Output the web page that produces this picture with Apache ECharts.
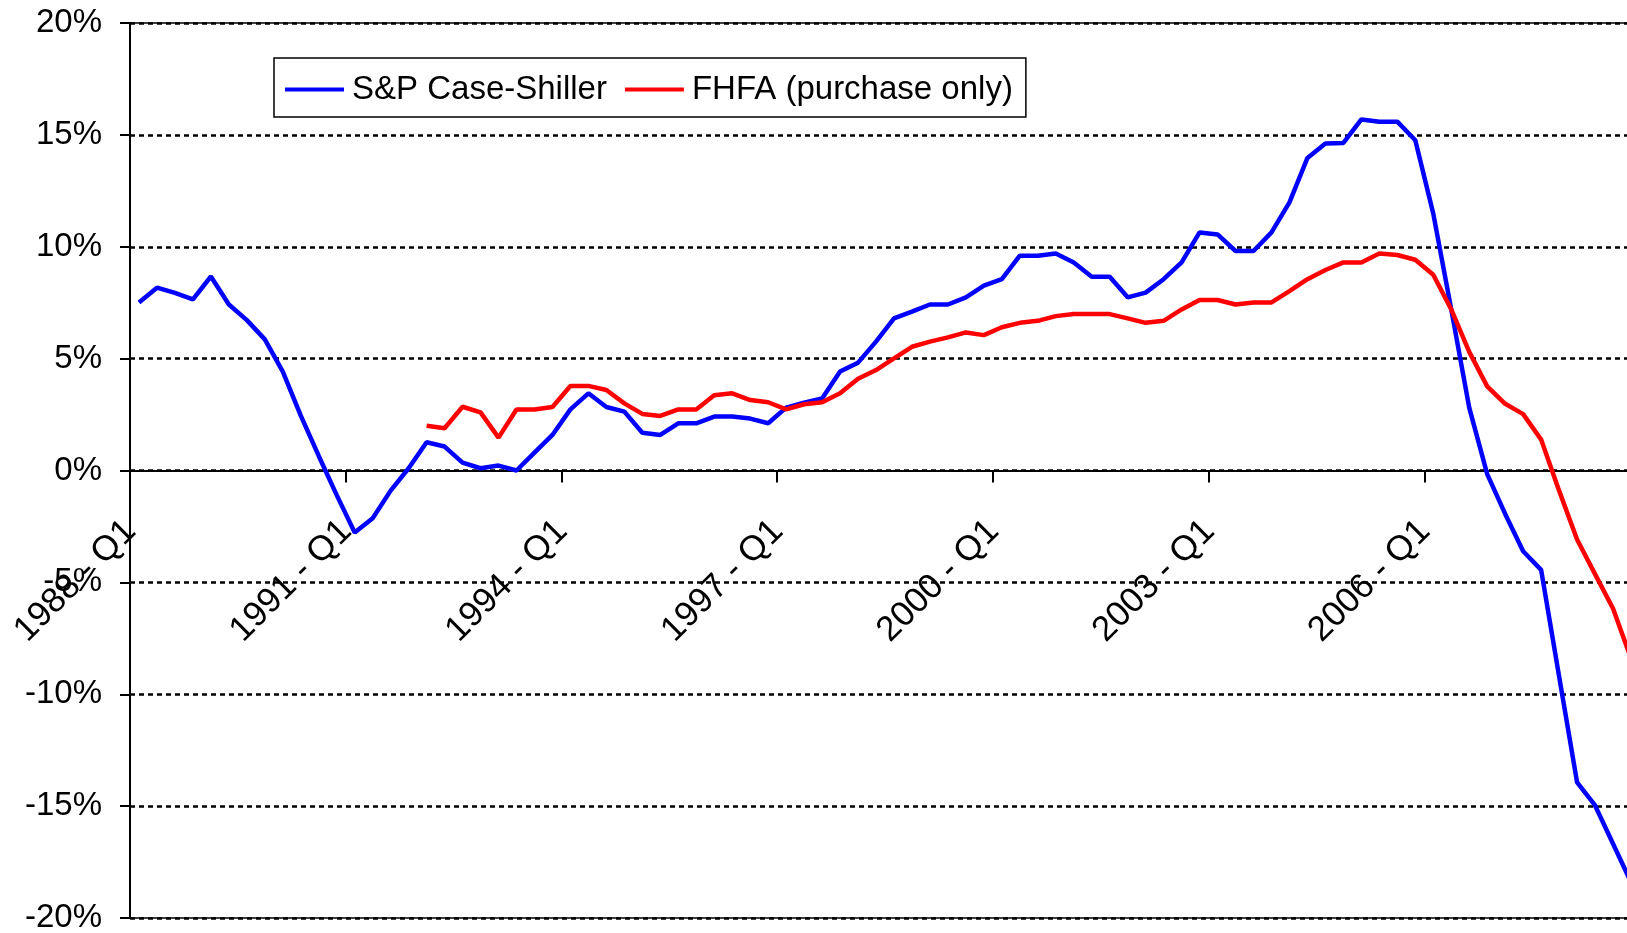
<!DOCTYPE html>
<html>
<head>
<meta charset="utf-8">
<script src="https://cdn.jsdelivr.net/npm/echarts@6/dist/echarts.min.js"></script>
<style>
    html, body {margin: 0; padding: 0; overflow: hidden; background: #fff;}
    #chart {width: 1660px; height: 933px;}
</style>
</head>
<body>
<div id="chart"></div>
<script>
// quarters 1988 Q1 .. 2008 Q4
const startYear = 1988;
const quarterCount = 84;
const categories = [];
for (let i = 0; i < quarterCount; i++) {
    categories.push((startYear + Math.floor(i / 4)) + ' - Q' + (i % 4 + 1));
}

// year-over-year change, %
const caseShiller = [
    7.51, 8.17, 7.94, 7.65, 8.67, 7.42, 6.72, 5.86,
    4.42, 2.45, 0.65, -1.1, -2.77, -2.13, -0.9, 0.1,
    1.26, 1.07, 0.35, 0.1, 0.22, 0.0, 0.8, 1.59,
    2.73, 3.45, 2.84, 2.63, 1.69, 1.59, 2.11, 2.11,
    2.41, 2.41, 2.32, 2.11, 2.81, 3.03, 3.22, 4.42,
    4.82, 5.76, 6.8, 7.1, 7.42, 7.42, 7.74, 8.26,
    8.55, 9.6, 9.6, 9.7, 9.3, 8.66, 8.66, 7.74,
    7.95, 8.55, 9.3, 10.64, 10.55, 9.81, 9.81, 10.64,
    11.98, 13.97, 14.62, 14.64, 15.69, 15.59, 15.59, 14.76,
    11.48, 7.2, 2.81, -0.16, -1.94, -3.61, -4.44, -9.2,
    -13.94, -14.97, -16.68, -18.4
];

const fhfa = [
    null, null, null, null, null, null, null, null,
    null, null, null, null, null, null, null, null,
    2.0, 1.89, 2.85, 2.6, 1.47, 2.73, 2.73, 2.84,
    3.78, 3.78, 3.6, 3.0, 2.53, 2.44, 2.73, 2.73,
    3.36, 3.45, 3.15, 3.05, 2.73, 2.96, 3.05, 3.45,
    4.1, 4.49, 5.01, 5.53, 5.76, 5.95, 6.17, 6.05,
    6.4, 6.6, 6.69, 6.9, 6.99, 6.99, 6.99, 6.8,
    6.6, 6.69, 7.2, 7.62, 7.62, 7.42, 7.51, 7.51,
    8.02, 8.55, 8.96, 9.3, 9.3, 9.7, 9.63, 9.42,
    8.75, 7.2, 5.3, 3.76, 2.98, 2.52, 1.38, -0.9,
    -3.08, -4.63, -6.17, -8.4
];

const seriesNames = ['S&P Case-Shiller', 'FHFA (purchase only)'];

const font = 'Liberation Sans';
const chart = echarts.init(document.getElementById('chart'));

// plot area: top 23, bottom 15 -> 0% sits half way, so lift the category axis there
const plotTop = 23, plotBottom = 15;
const plotHeight = 933 - plotTop - plotBottom;

chart.setOption({
    animation: false,
    backgroundColor: '#fff',
    grid: {
        left: 130, right: 20, top: plotTop, bottom: plotBottom,
        outerBoundsMode: 'none',
        show: true, borderColor: '#000', borderWidth: 1.5,
    },
    legend: {
        left: 274, top: 58,
        padding: [15, 13, 11, 11],
        borderColor: '#000', borderWidth: 1.5,
        icon: 'rect', itemWidth: 59, itemHeight: 4, itemGap: 18,
        textStyle: {fontFamily: font, fontSize: 33, color: '#000', padding: [0, 0, 0, 3]},
        data: seriesNames,
    },
    xAxis: {
        type: 'category',
        data: categories,
        boundaryGap: true,
        offset: -plotHeight / 2,
        axisLine: {onZero: false, lineStyle: {color: '#000', width: 2}},
        axisTick: {show: true, interval: 11, length: 12, lineStyle: {color: '#000', width: 2}},
        axisLabel: {
            interval: 11, rotate: 45, margin: 47,
            padding: [0, 12, 0, 0],
            fontFamily: font, fontSize: 35, color: '#000',
        },
        splitLine: {show: false},
    },
    yAxis: {
        type: 'value',
        min: -20, max: 20, interval: 5,
        axisLine: {show: true, lineStyle: {color: '#000', width: 2}},
        axisTick: {show: true, length: 10, lineStyle: {color: '#000', width: 2}},
        axisLabel: {
            formatter: '{value}%', margin: 28,
            fontFamily: font, fontSize: 33, color: '#000',
        },
        splitLine: {lineStyle: {color: '#000', width: 2.5, type: [5, 4]}},
    },
    series: [
        {
            name: seriesNames[0], type: 'line', data: caseShiller,
            symbol: 'none', color: '#0000ff',
            lineStyle: {width: 4.5, color: '#0000ff'},
        },
        {
            name: seriesNames[1], type: 'line', data: fhfa,
            symbol: 'none', color: '#ff0000',
            lineStyle: {width: 4.5, color: '#ff0000'},
        },
    ],
});
</script>
</body>
</html>
